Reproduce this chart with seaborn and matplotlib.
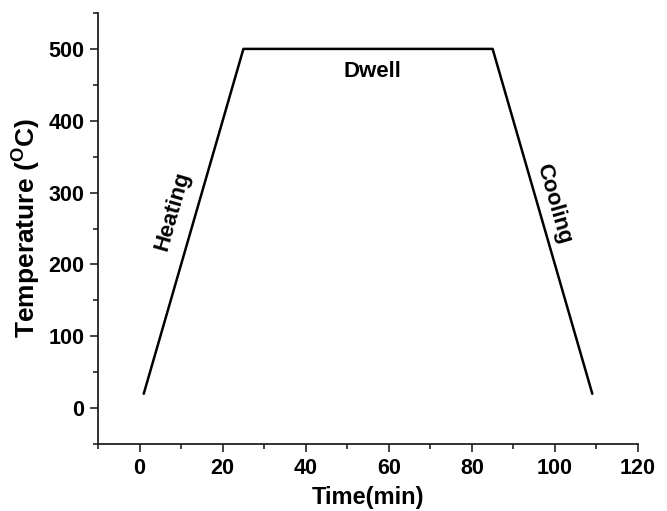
import matplotlib
matplotlib.use("Agg")
import matplotlib.pyplot as plt
import seaborn as sns
import pandas as pd
from matplotlib.ticker import MultipleLocator

# Data
time_min = [1, 25, 85, 109]
temperature_c = [20, 500, 500, 20]
phase_labels = ["Heating", "Dwell", "Cooling"]
label_x = [8.0, 56.0, 99.8]
label_y = [274, 469, 285]
label_rot = [74, 0, -74]

sns.set_theme(style="ticks")
plt.rcParams["font.family"] = ["Liberation Sans", "DejaVu Sans"]
plt.rcParams["font.weight"] = "bold"
plt.rcParams["text.color"] = "black"
plt.rcParams["axes.labelcolor"] = "black"
plt.rcParams["mathtext.fontset"] = "custom"
plt.rcParams["mathtext.rm"] = "Liberation Sans:bold"
plt.rcParams["mathtext.bf"] = "Liberation Sans:bold"
plt.rcParams["mathtext.it"] = "Liberation Sans:bold"

df = pd.DataFrame({"Time": time_min, "Temp": temperature_c})

fig = plt.figure(figsize=(6.67, 5.11), dpi=100)
ax = fig.add_axes([0.147, 0.131, 0.8095, 0.8436])

sns.lineplot(data=df, x="Time", y="Temp", sort=False, color="black",
             linewidth=1.8, ax=ax, estimator=None)

ax.set_xlim(-10, 120)
ax.set_ylim(-50, 550)
ax.xaxis.set_major_locator(MultipleLocator(20))
ax.xaxis.set_minor_locator(MultipleLocator(10))
ax.yaxis.set_major_locator(MultipleLocator(100))
ax.yaxis.set_minor_locator(MultipleLocator(50))

for s in ["top", "right"]:
    ax.spines[s].set_visible(False)
for s in ["left", "bottom"]:
    ax.spines[s].set_linewidth(1.3)
    ax.spines[s].set_color("#222222")

ax.tick_params(which="major", length=6, width=1.2, direction="out",
               labelsize=15.5, colors="#222222", labelcolor="black", pad=4)
ax.tick_params(which="minor", length=3.5, width=1.2, direction="out",
               colors="#222222")
for lab in ax.get_xticklabels() + ax.get_yticklabels():
    lab.set_fontweight("bold")

ax.set_xlabel("Time(min)", fontsize=17, fontweight="bold", labelpad=5)
ax.set_ylabel(r"Temperature ($^{\mathrm{O}}$C)", fontsize=19,
              fontweight="bold", labelpad=4)

for t, x, y, r in zip(phase_labels, label_x, label_y, label_rot):
    ax.text(x, y, t, rotation=r, ha="center", va="center",
            fontsize=16, fontweight="bold", rotation_mode="anchor",
            color="black")

fig.savefig("out.png", dpi=100, facecolor="white")
